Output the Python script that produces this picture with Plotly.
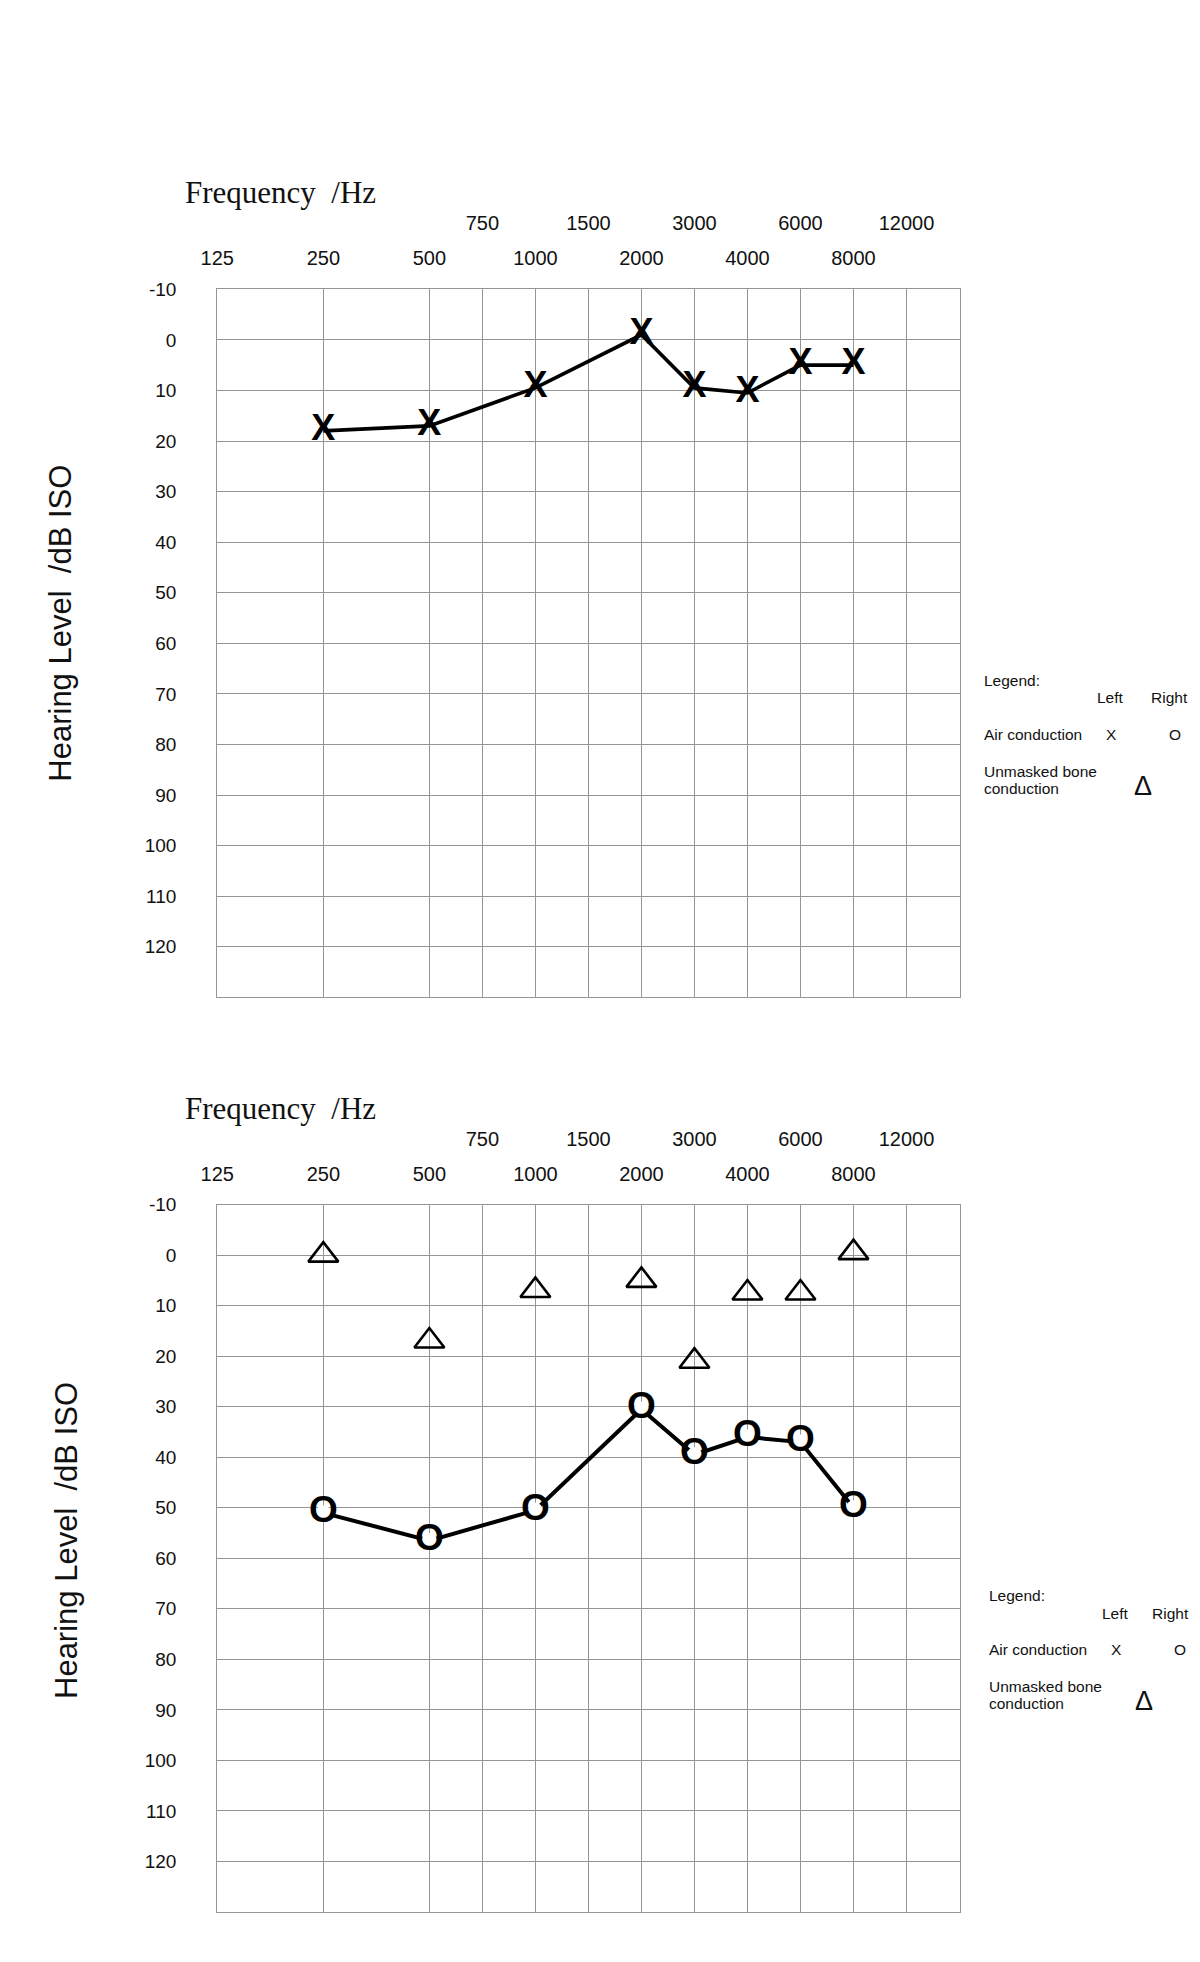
import math
import plotly.graph_objects as go

# ---------------- data ----------------
freqs = [250, 500, 1000, 2000, 3000, 4000, 6000, 8000]
left_air = [18, 17, 9.5, -1, 9.5, 10.5, 5, 5]          # top chart, X
right_air = [51, 56.5, 50.5, 30.5, 39.5, 36, 37, 50]   # bottom chart, O
bone_unmasked = [0, 17, 7, 5, 21, 7.5, 7.5, -0.5]      # bottom chart, triangles

octave_ticks = [125, 250, 500, 1000, 2000, 4000, 8000]
half_octave_ticks = [750, 1500, 3000, 6000, 12000]
db_ticks = list(range(-10, 130, 10))
x_limits = [125, 16000]
db_limits = [130, -10]

# page is 1200x1962; the html body keeps an 8px margin around the figure
OFF = 8
W, H = 1200 - 2 * OFF, 1962 - 2 * OFF


def aud_pos(f):
    """audiogram convention: octaves above 125 Hz, mid-octave freqs at half steps"""
    return round(2 * math.log2(f / 125.0)) / 2.0


def px(x):
    return (x - OFF) / W


def py(y):
    return 1 - (y - OFF) / H


GRID = "#969696"
TICKFONT_X = dict(family="Liberation Sans Narrow, Arial Narrow, Liberation Sans, Arial", size=20, color="#111")
TICKFONT_Y = dict(family="Liberation Sans, Arial", size=19, color="#111")

x_dom = [px(217.3), px(959.5)]
y_doms = [[py(997.3), py(289.3)], [py(1912.0), py(1204.6)]]

fig = go.Figure()

xr = [aud_pos(x_limits[0]), aud_pos(x_limits[1])]
oct_pos = [aud_pos(f) for f in octave_ticks]
half_pos = [aud_pos(f) for f in half_octave_ticks]

# top chart: left ear air conduction
fig.add_trace(go.Scatter(
    x=[aud_pos(f) for f in freqs], y=left_air, mode="lines+text",
    text=["X"] * len(freqs), textposition="middle center",
    textfont=dict(family="Liberation Sans, Arial", size=36, color="black", weight="bold"),
    line=dict(color="black", width=3.6), xaxis="x", yaxis="y",
    cliponaxis=False, showlegend=False, hoverinfo="skip"))

# bottom chart: bone conduction triangles
fig.add_trace(go.Scatter(
    x=[aud_pos(f) for f in freqs], y=bone_unmasked, mode="markers",
    marker=dict(symbol="triangle-up-open", size=26, color="black",
                line=dict(color="black", width=2.6)),
    xaxis="x2", yaxis="y2", cliponaxis=False, showlegend=False, hoverinfo="skip"))

# bottom chart: right ear air conduction
fig.add_trace(go.Scatter(
    x=[aud_pos(f) for f in freqs], y=right_air, mode="lines+markers+text",
    text=["O"] * len(freqs), textposition="middle center",
    textfont=dict(family="Liberation Sans, Arial", size=37, color="black", weight="bold"),
    marker=dict(symbol="circle", size=15, color="white", line=dict(width=0)),
    line=dict(color="black", width=4), xaxis="x2", yaxis="y2",
    cliponaxis=False, showlegend=False, hoverinfo="skip"))

# empty carrier traces so the half-octave label axes get drawn
for xa, ya in (("x3", "y"), ("x4", "y2")):
    fig.add_trace(go.Scatter(x=half_pos, y=[None] * len(half_pos), mode="markers",
                             xaxis=xa, yaxis=ya, showlegend=False, hoverinfo="skip"))


def base_xaxis(anchor, tickvals, ticktext, standoff, overlay=None):
    d = dict(domain=x_dom, anchor=anchor, side="top", range=xr, tickmode="array",
             tickvals=tickvals, ticktext=ticktext, ticks="", ticklabelstandoff=standoff,
             showgrid=True, gridcolor=GRID, gridwidth=1, zeroline=False, automargin=False,
             tickfont=TICKFONT_X, fixedrange=True)
    if overlay:
        d.update(overlaying=overlay, showline=False)
    else:
        d.update(showline=True, mirror=True, linecolor=GRID, linewidth=1.2)
    return d


def base_yaxis(anchor, dom):
    return dict(domain=dom, anchor=anchor, range=db_limits, tickmode="array",
                tickvals=db_ticks, ticktext=[str(v) for v in db_ticks], ticks="",
                ticklabelstandoff=36, showgrid=True, gridcolor=GRID, gridwidth=1,
                zeroline=False, showline=True, mirror=True, linecolor=GRID, automargin=False,
                linewidth=1.2, tickfont=TICKFONT_Y, fixedrange=True)


fig.update_layout(
    template="none",
    xaxis=base_xaxis("y", oct_pos, [str(f) for f in octave_ticks], 15),
    xaxis3=base_xaxis("y", half_pos, [str(f) for f in half_octave_ticks], 54, overlay="x"),
    yaxis=base_yaxis("x", y_doms[0]),
    xaxis2=base_xaxis("y2", oct_pos, [str(f) for f in octave_ticks], 15),
    xaxis4=base_xaxis("y2", half_pos, [str(f) for f in half_octave_ticks], 54, overlay="x2"),
    yaxis2=base_yaxis("x2", y_doms[1]),
)

annotations = []
for k, dy in enumerate([0.0, 915.3]):
    annotations.append(dict(text="Frequency\u00a0 /Hz", x=px(182.7), y=py(193 + dy),
                            xanchor="left", yanchor="middle",
                            font=dict(family="Liberation Serif, Times New Roman", size=31, color="#111")))
    annotations.append(dict(text="Hearing Level\u00a0 /dB ISO", x=px(61 + 5 * k),
                            y=py(623.7 + (1541 - 623.7) * k),
                            xanchor="center", yanchor="middle", textangle=-90,
                            font=dict(family="Liberation Sans, Arial", size=31, color="#111")))
    lx = 5 * k
    lf = dict(family="Liberation Sans, Arial", size=15.5, color="#111")
    items = [
        ("Legend:", 981.7, 680, "left"),
        ("Left", 1110, 698, "center"),
        ("Air conduction", 981.7, 734.5, "left"),
        ("X", 1111.7, 734.5, "center"),
        ("O", 1175, 734.5, "center"),
        ("Unmasked bone", 981.7, 771, "left"),
        ("conduction", 981.7, 788, "left"),
    ]
    for t, x0, y0, anc in items:
        annotations.append(dict(text=t, x=px(x0 + lx), y=py(y0 + dy), xanchor=anc,
                                yanchor="middle", font=lf))
    # right-column header, kept inside the page edge
    annotations.append(dict(text="Right", x=px(min(1190 + lx, 1191)), y=py(698 + dy),
                            xanchor="right", yanchor="middle", font=lf))
    annotations.append(dict(text="\u0394", x=px(1143 + 1.2 * k), y=py(786 + dy), xanchor="center",
                            yanchor="middle",
                            font=dict(family="Liberation Sans, Arial", size=27, color="#111")))

for a in annotations:
    a.update(xref="paper", yref="paper", showarrow=False)

fig.update_layout(
    width=W, height=H, autosize=False,
    margin=dict(l=0, r=0, t=0, b=0, pad=0),
    paper_bgcolor="white", plot_bgcolor="white",
    annotations=annotations, showlegend=False,
)

fig.write_html("out.html")
